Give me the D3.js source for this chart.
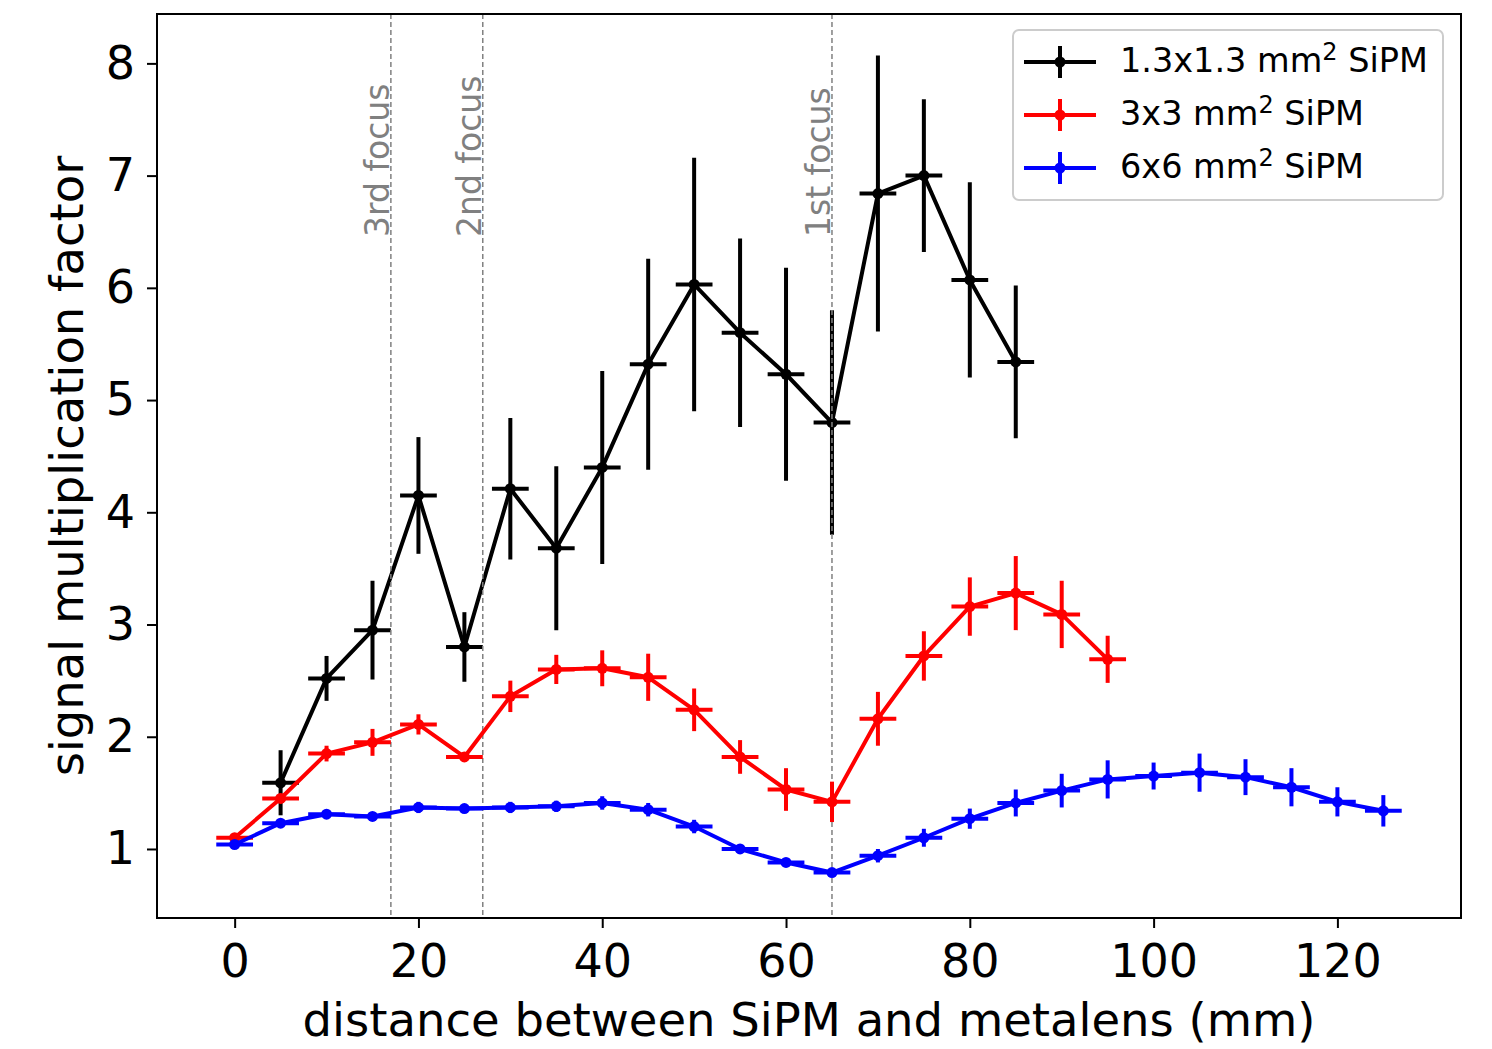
<!DOCTYPE html>
<html>
<head>
<meta charset="utf-8">
<script src="https://cdn.jsdelivr.net/npm/d3@7"></script>
<style>
  body { margin: 0; background: #fff; }
  svg { display: block; font-family: "DejaVu Sans", sans-serif; }
</style>
</head>
<body>
<div id="chart"></div>
<script>
// ---------------- data ----------------
const xBlack = [5, 10, 15, 20, 25, 30, 35, 40, 45, 50, 55, 60, 65, 70, 75, 80, 85];
const yBlack = [1.59, 2.52, 2.95, 4.15, 2.80, 4.21, 3.68, 4.40, 5.32, 6.03, 5.60, 5.23, 4.80, 6.84, 7.00, 6.07, 5.34];
const eBlack = [0.29, 0.20, 0.44, 0.52, 0.31, 0.63, 0.73, 0.86, 0.94, 1.13, 0.84, 0.95, 1.00, 1.23, 0.68, 0.87, 0.68];

const xRed = [0, 5, 10, 15, 20, 25, 30, 35, 40, 45, 50, 55, 60, 65, 70, 75, 80, 85, 90, 95];
const yRed = [1.10, 1.45, 1.85, 1.95, 2.11, 1.82, 2.36, 2.60, 2.61, 2.53, 2.24, 1.82, 1.53, 1.42, 2.16, 2.72, 3.16, 3.28, 3.09, 2.69];
const eRed = [0.03, 0.04, 0.07, 0.12, 0.09, 0.04, 0.14, 0.13, 0.16, 0.21, 0.19, 0.15, 0.19, 0.18, 0.24, 0.22, 0.26, 0.33, 0.30, 0.21];

const xBlue = [0, 5, 10, 15, 20, 25, 30, 35, 40, 45, 50, 55, 60, 65, 70, 75, 80, 85, 90, 95, 100, 105, 110, 115, 120, 125];
const yBlue = [1.04, 1.23, 1.31, 1.29, 1.37, 1.36, 1.37, 1.38, 1.41, 1.35, 1.20, 1.00, 0.88, 0.79, 0.94, 1.10, 1.27, 1.41, 1.52, 1.62, 1.65, 1.68, 1.64, 1.55, 1.42, 1.34];
const eBlue = [0.02, 0.03, 0.03, 0.03, 0.05, 0.04, 0.05, 0.05, 0.06, 0.06, 0.06, 0.04, 0.04, 0.03, 0.06, 0.08, 0.09, 0.12, 0.15, 0.17, 0.12, 0.17, 0.16, 0.17, 0.13, 0.14];

const xErr = 2; // horizontal error (mm)

const focusX = [65, 27, 17];
const focusLabels = ["1st focus", "2nd focus", "3rd focus"];

const seriesNames = ["1.3x1.3 mm", "3x3 mm", "6x6 mm"];
const seriesColors = ["#000000", "#ff0000", "#0000ff"];

const xTicks = [0, 20, 40, 60, 80, 100, 120];
const yTicks = [1, 2, 3, 4, 5, 6, 7, 8];

// ---------------- layout ----------------
const W = 1492, H = 1049;
const margin = { left: 157, top: 14, right: 31, bottom: 131 };
const iw = W - margin.left - margin.right;
const ih = H - margin.top - margin.bottom;

const svg = d3.select("#chart").append("svg")
  .attr("width", W)
  .attr("height", H);

const g = svg.append("g")
  .attr("transform", `translate(${margin.left},${margin.top})`);

// ---------------- scales ----------------
const x = d3.scaleLinear().domain([-8.45, 133.45]).range([0, iw]);
const y = d3.scaleLinear().domain([0.385, 8.44]).range([ih, 0]);

// ---------------- axes ----------------
const xAxis = g.append("g")
  .attr("transform", `translate(0,${ih})`)
  .call(d3.axisBottom(x).tickValues(xTicks).tickSize(10).tickPadding(16).tickFormat(d3.format("d")));
const yAxis = g.append("g")
  .call(d3.axisLeft(y).tickValues(yTicks).tickSize(10).tickPadding(12).tickFormat(d3.format("d")));

[xAxis, yAxis].forEach(a => {
  a.select(".domain").remove();
  a.selectAll(".tick line").attr("stroke", "#000").attr("stroke-width", 2);
  a.selectAll(".tick text")
    .attr("fill", "#000")
    .style("font-size", "46px")
    .style("font-family", "DejaVu Sans, sans-serif");
});

g.append("text")
  .attr("x", iw / 2)
  .attr("y", ih + 118)
  .attr("text-anchor", "middle")
  .style("font-size", "46.5px")
  .text("distance between SiPM and metalens (mm)");

g.append("text")
  .attr("transform", `translate(${-74},${ih / 2}) rotate(-90)`)
  .attr("text-anchor", "middle")
  .style("font-size", "46.5px")
  .text("signal multiplication factor");

// ---------------- series ----------------
function toPoints(xs, ys, es) {
  return xs.map((d, i) => ({ x: d, y: ys[i], e: es[i] }));
}

const line = d3.line().x(d => x(d.x)).y(d => y(d.y));

function drawSeries(points, color) {
  const s = g.append("g");
  s.selectAll("line.ey")
    .data(points)
    .join("line")
    .attr("class", "ey")
    .attr("x1", d => x(d.x)).attr("x2", d => x(d.x))
    .attr("y1", d => y(d.y - d.e)).attr("y2", d => y(d.y + d.e))
    .attr("stroke", color).attr("stroke-width", 4);
  s.selectAll("line.ex")
    .data(points)
    .join("line")
    .attr("class", "ex")
    .attr("x1", d => x(d.x - xErr)).attr("x2", d => x(d.x + xErr))
    .attr("y1", d => y(d.y)).attr("y2", d => y(d.y))
    .attr("stroke", color).attr("stroke-width", 4);
  s.append("path")
    .datum(points)
    .attr("d", line)
    .attr("fill", "none")
    .attr("stroke", color)
    .attr("stroke-width", 4)
    .attr("stroke-linejoin", "round");
  s.selectAll("circle")
    .data(points)
    .join("circle")
    .attr("cx", d => x(d.x)).attr("cy", d => y(d.y))
    .attr("r", 5.5)
    .attr("fill", color);
}

drawSeries(toPoints(xBlack, yBlack, eBlack), seriesColors[0]);

// focus lines
const focus = g.append("g");
focus.selectAll("line")
  .data(focusX)
  .join("line")
  .attr("x1", d => x(d)).attr("x2", d => x(d))
  .attr("y1", 0).attr("y2", ih)
  .attr("stroke", "#808080")
  .attr("stroke-width", 1.5)
  .attr("stroke-dasharray", "5,3");
focus.selectAll("text")
  .data(focusX)
  .join("text")
  .attr("transform", d => `translate(${x(d) - 2},${223}) rotate(-90)`)
  .attr("fill", "#808080")
  .style("font-size", "33px")
  .text((d, i) => focusLabels[i]);

drawSeries(toPoints(xRed, yRed, eRed), seriesColors[1]);
drawSeries(toPoints(xBlue, yBlue, eBlue), seriesColors[2]);

// frame
g.append("rect")
  .attr("width", iw).attr("height", ih)
  .attr("fill", "none")
  .attr("stroke", "#000")
  .attr("stroke-width", 2);

// ---------------- legend ----------------
const lg = svg.append("g").attr("transform", "translate(1013,30)");
lg.append("rect")
  .attr("width", 430).attr("height", 170)
  .attr("rx", 6)
  .attr("fill", "#fff")
  .attr("stroke", "#cccccc")
  .attr("stroke-width", 2);

const rows = lg.selectAll("g.row")
  .data(seriesNames)
  .join("g")
  .attr("class", "row")
  .attr("transform", (d, i) => `translate(0,${32 + i * 53})`);

rows.append("line")
  .attr("x1", 11).attr("x2", 83)
  .attr("stroke", (d, i) => seriesColors[i]).attr("stroke-width", 4);
rows.append("line")
  .attr("x1", 47).attr("x2", 47).attr("y1", -16).attr("y2", 16)
  .attr("stroke", (d, i) => seriesColors[i]).attr("stroke-width", 4);
rows.append("circle")
  .attr("cx", 47).attr("r", 5.5)
  .attr("fill", (d, i) => seriesColors[i]);

const lt = rows.append("text")
  .attr("x", 107).attr("y", 10)
  .style("font-size", "33.5px");
lt.append("tspan").text(d => d);
lt.append("tspan").attr("dy", -12).style("font-size", "24px").text("2");
lt.append("tspan").attr("dy", 12).text(" SiPM");
</script>
</body>
</html>
